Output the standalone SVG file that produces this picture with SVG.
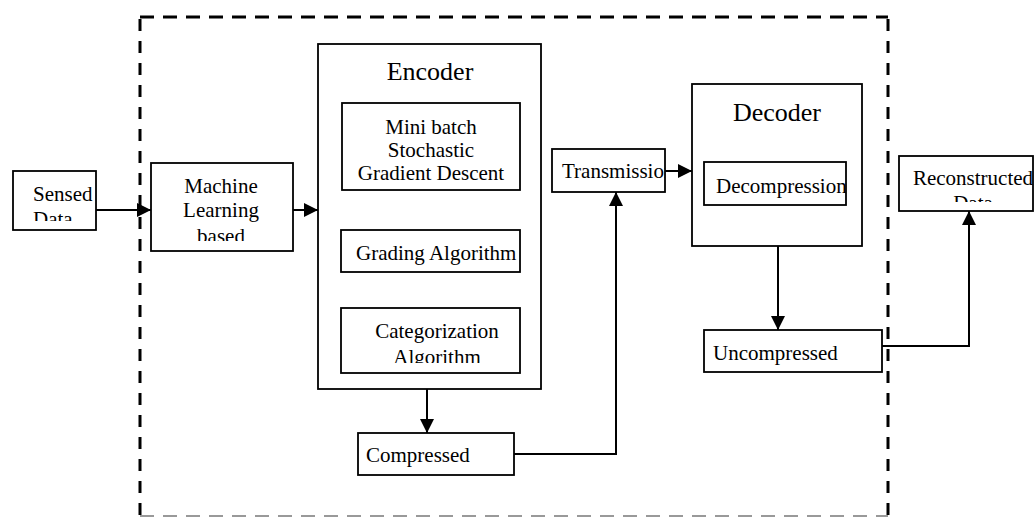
<svg xmlns="http://www.w3.org/2000/svg" width="1034" height="517" viewBox="0 0 1034 517">
<style>
.box{fill:#fff;stroke:#000;stroke-width:1.8}
.t{font-family:"Liberation Serif","Times New Roman",serif;font-size:21px;fill:#000}
.h{font-family:"Liberation Serif","Times New Roman",serif;font-size:26px;fill:#000}
.c{fill:none;stroke:#000;stroke-width:2}
.dash{fill:none;stroke:#000;stroke-width:3;stroke-dasharray:14 9}
.dashv{fill:none;stroke:#000;stroke-width:3;stroke-dasharray:12 10}
</style>
<defs>
<marker id="arr" markerUnits="userSpaceOnUse" markerWidth="15" markerHeight="14" refX="14" refY="7" orient="auto">
<path d="M0,0 L14,7 L0,14 z" fill="#000"/>
</marker>
<clipPath id="cSensed"><rect x="13" y="171" width="83" height="50"/></clipPath>
<clipPath id="cML"><rect x="151" y="163" width="142" height="78"/></clipPath>
<clipPath id="cGrad"><rect x="341" y="230" width="179" height="42"/></clipPath>
<clipPath id="cCat"><rect x="341" y="308" width="179" height="55"/></clipPath>
<clipPath id="cTrans"><rect x="552" y="149" width="113" height="43"/></clipPath>
<clipPath id="cDecomp"><rect x="704" y="162" width="142" height="43"/></clipPath>
<clipPath id="cRec"><rect x="899" y="156" width="135" height="46"/></clipPath>
</defs>

<g id="boundary">
<path class="dash" d="M140,17 H888"/>
<path class="dashv" d="M140,19 V517"/>
<path class="dashv" d="M888,19 V517"/>
<path d="M140,516 H888" fill="none" stroke="#999" stroke-width="2" stroke-dasharray="14 9"/>
</g>

<g id="sensed-data">
<rect class="box" x="13" y="171" width="83" height="59"/>
<g clip-path="url(#cSensed)">
<text class="t" x="33" y="201">Sensed</text>
<text class="t" x="33" y="226">Data</text>
</g>
</g>

<g id="machine-learning">
<rect class="box" x="151" y="163" width="142" height="88"/>
<g clip-path="url(#cML)">
<text class="t" x="221" y="193" text-anchor="middle">Machine</text>
<text class="t" x="221" y="217" text-anchor="middle">Learning</text>
<text class="t" x="221" y="243" text-anchor="middle">based</text>
</g>
</g>

<g id="encoder">
<rect class="box" x="318" y="44" width="223" height="345"/>
<text class="h" x="430" y="80" text-anchor="middle">Encoder</text>
</g>

<g id="mini-batch">
<rect class="box" x="342" y="103" width="178" height="87"/>
<text class="t" x="431" y="134" text-anchor="middle">Mini batch</text>
<text class="t" x="431" y="157" text-anchor="middle">Stochastic</text>
<text class="t" x="431" y="180" text-anchor="middle">Gradient Descent</text>
</g>

<g id="grading">
<rect class="box" x="341" y="230" width="179" height="42"/>
<g clip-path="url(#cGrad)">
<text class="t" x="356" y="260">Grading Algorithm</text>
</g>
</g>

<g id="categorization">
<rect class="box" x="341" y="308" width="179" height="65"/>
<g clip-path="url(#cCat)">
<text class="t" x="437" y="338" text-anchor="middle">Categorization</text>
<text class="t" x="437" y="364" text-anchor="middle">Algorithm</text>
</g>
</g>

<g id="compressed">
<rect class="box" x="358" y="433" width="156" height="42"/>
<text class="t" x="366" y="462">Compressed</text>
</g>

<g id="transmission">
<rect class="box" x="552" y="149" width="113" height="43"/>
<g clip-path="url(#cTrans)">
<text class="t" x="562" y="178">Transmission</text>
</g>
</g>

<g id="decoder">
<rect class="box" x="692" y="84" width="170" height="162"/>
<text class="h" x="777" y="121" text-anchor="middle">Decoder</text>
</g>

<g id="decompression">
<rect class="box" x="704" y="162" width="142" height="43"/>
<g clip-path="url(#cDecomp)">
<text class="t" x="716" y="193">Decompression</text>
</g>
</g>

<g id="uncompressed">
<rect class="box" x="704" y="330" width="178" height="42"/>
<text class="t" x="713" y="360">Uncompressed</text>
</g>

<g id="reconstructed">
<rect class="box" x="899" y="156" width="134" height="55"/>
<g clip-path="url(#cRec)">
<text class="t" x="973" y="185" text-anchor="middle">Reconstructed</text>
<text class="t" x="973" y="210" text-anchor="middle">Data</text>
</g>
</g>

<g id="connectors">
<path class="c" d="M96,210 H151" marker-end="url(#arr)"/>
<path class="c" d="M293,210 H318" marker-end="url(#arr)"/>
<path class="c" d="M427,389 V433" marker-end="url(#arr)"/>
<path class="c" d="M514,454 H616 V192" marker-end="url(#arr)"/>
<path class="c" d="M665,171 H692" marker-end="url(#arr)"/>
<path class="c" d="M778,246 V330" marker-end="url(#arr)"/>
<path class="c" d="M882,346 H969 V211" marker-end="url(#arr)"/>
</g>
</svg>
